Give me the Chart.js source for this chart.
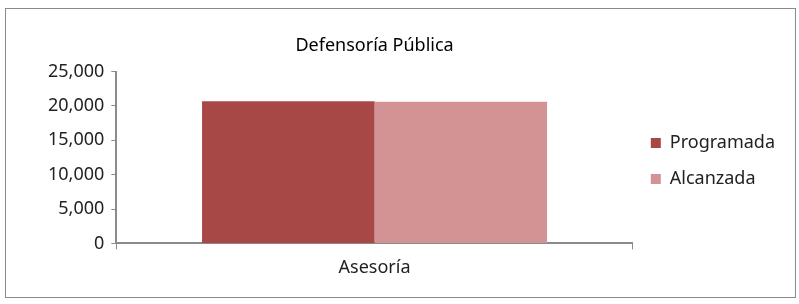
<!DOCTYPE html>
<html>
<head>
<meta charset="utf-8">
<script src="https://cdn.jsdelivr.net/npm/chart.js@4/dist/chart.umd.min.js"></script>
<style>
  body { margin: 0; background: #fff; }
  #box { position: absolute; left: 5px; top: 8px; width: 789px; height: 288px; border: 1px solid #8a8a8a; }
  canvas { display: block; }
</style>
</head>
<body>
<div id="box"><canvas id="myChart" width="789" height="288"></canvas></div>
<script>
const categories = ['Asesoría'];
const programada = [20700];
const alcanzada = [20600];
const seriesNames = ['Programada', 'Alcanzada'];

Chart.defaults.font.family = '"Noto Sans", Arial, sans-serif';
Chart.defaults.color = '#222';

var ctx = document.getElementById('myChart').getContext('2d');
window.myBarChart = new Chart(ctx, {
    type: 'bar',
    data: {
        labels: categories,
        datasets: [{
            label: seriesNames[0],
            data: programada,
            backgroundColor: '#a84846',
            categoryPercentage: 0.668,
            barPercentage: 1.0
        }, {
            label: seriesNames[1],
            data: alcanzada,
            backgroundColor: '#d39293',
            categoryPercentage: 0.668,
            barPercentage: 1.0
        }]
    },
    options: {
        responsive: false,
        animation: false,
        layout: { padding: { left: 35, right: 10, top: 26, bottom: 10 } },
        plugins: {
            title: {
                display: true,
                text: 'Defensoría Pública',
                fullSize: false,
                font: { size: 18, weight: 'normal' },
                color: '#000',
                padding: { top: 0, bottom: 15 }
            },
            legend: {
                position: 'right',
                labels: {
                    boxWidth: 10,
                    boxHeight: 10,
                    padding: 18,
                    font: { size: 18 },
                    color: '#222'
                }
            },
            tooltip: { enabled: false }
        },
        scales: {
            x: {
                grid: { display: true, drawOnChartArea: false, drawTicks: true, tickLength: 6, color: '#8a8a8a' },
                border: { color: '#8a8a8a', width: 2 },
                ticks: { font: { size: 18 }, color: '#222', padding: 8 }
            },
            y: {
                min: 0,
                max: 25000,
                ticks: { stepSize: 5000, font: { size: 18 }, color: '#222', padding: 7 },
                grid: { display: true, drawOnChartArea: false, drawTicks: true, tickLength: 5, color: '#8a8a8a' },
                border: { color: '#8a8a8a', width: 2 }
            }
        }
    }
});
</script>
</body>
</html>
